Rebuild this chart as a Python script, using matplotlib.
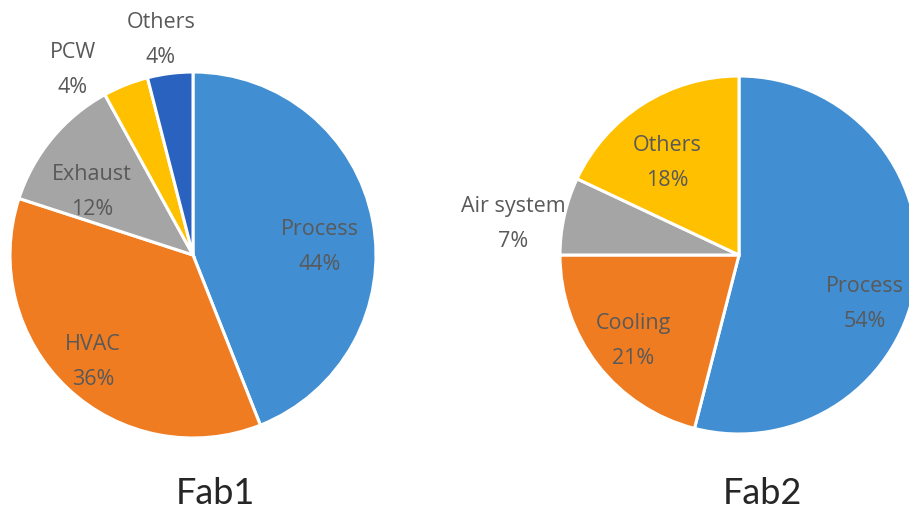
import matplotlib.pyplot as plt

# Fab1 data
fab1_names = ["Process", "HVAC", "Exhaust", "PCW", "Others"]
fab1_values = [44, 36, 12, 4, 4]
fab1_colors = ["#418FD2", "#F07C22", "#A5A5A5", "#FFC000", "#2A62C0"]

# Fab2 data
fab2_names = ["Process", "Cooling", "Air system", "Others"]
fab2_values = [54, 21, 7, 18]
fab2_colors = ["#418FD2", "#F07C22", "#A5A5A5", "#FFC000"]

W, H = 909, 511
fig = plt.figure(figsize=(W / 100, H / 100), dpi=100)
ax = fig.add_axes([0, 0, 1, 1])

def py(y):
    # pixel row (from top) -> data y
    return H - y

# label positions (pixel coords, centre of two-line label)
fab1_lab = [(320, 247), (93, 362), (92, 192), (73, 70), (161, 40)]
fab2_lab = [(865, 304), (633, 341), (513, 224), (667, 163)]

def draw(values, names, colors, cx, cy, r, labpos, title, tx):
    ax.pie(values, colors=colors, startangle=90, counterclock=False,
           center=(cx, py(cy)), radius=r,
           wedgeprops=dict(edgecolor="white", linewidth=2.2))
    for v, n, (lx, ly) in zip(values, names, labpos):
        ax.text(lx, py(ly), f"{n}\n{v}%", ha="center", va="center",
                fontsize=15.5, color="#595959", family="Open Sans",
                linespacing=1.85)
    ax.text(tx, py(493), title, ha="center", va="center", fontsize=26,
            color="#262626", family="Lato")

draw(fab1_values, fab1_names, fab1_colors, 193, 255, 183, fab1_lab, "Fab1", 215)
draw(fab2_values, fab2_names, fab2_colors, 739, 255, 179, fab2_lab, "Fab2", 762)

ax.set_xlim(0, W)
ax.set_ylim(0, H)
ax.set_aspect("equal")
ax.axis("off")

fig.savefig("out.png", dpi=100)
